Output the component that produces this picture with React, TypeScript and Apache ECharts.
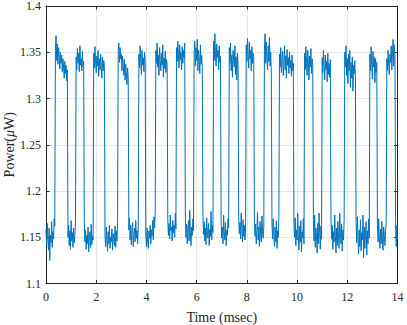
import React, { useEffect, useRef } from "react";
import * as echarts from "echarts";

// Sampling step of the trace, in msec
const SAMPLE_STEP_MS = 0.025;

// Axis ticks
const xTicks = [0, 2, 4, 6, 8, 10, 12, 14];
const yTicks = [1.1, 1.15, 1.2, 1.25, 1.3, 1.35, 1.4];

// Measured optical power (µW), one value per sample, one row per low/high level
const powerSamples: number[] = [
  // low 0.00 - 0.38
  1.158, 1.141, 1.165, 1.147, 1.136, 1.160, 1.125, 1.152, 1.144, 1.167, 1.139, 1.156, 1.148, 1.170, 1.162,
  // high 0.38 - 0.87
  1.352, 1.368, 1.341, 1.359, 1.337, 1.355, 1.346, 1.332, 1.350, 1.338, 1.347, 1.329, 1.343, 1.334, 1.322, 1.340, 1.327, 1.336, 1.319, 1.331,
  // low
  1.150, 1.163, 1.141, 1.157, 1.137, 1.168, 1.146, 1.155, 1.139, 1.160, 1.144, 1.153, 1.165,
  // high
  1.345, 1.331, 1.354, 1.338, 1.349, 1.329, 1.357, 1.336, 1.343, 1.330, 1.351, 1.334, 1.340,
  // low
  1.166, 1.145, 1.158, 1.137, 1.152, 1.143, 1.161, 1.134, 1.149, 1.156, 1.139, 1.164, 1.142, 1.151, 1.147,
  // high
  1.349, 1.333, 1.356, 1.340, 1.328, 1.346, 1.335, 1.352, 1.324, 1.343, 1.331, 1.348, 1.337, 1.322, 1.345, 1.330, 1.341, 1.334,
  // low
  1.152, 1.140, 1.161, 1.147, 1.135, 1.156, 1.143, 1.163, 1.138, 1.150, 1.145, 1.159, 1.136, 1.154, 1.148, 1.141, 1.162, 1.139, 1.157, 1.146, 1.166,
  // high
  1.351, 1.360, 1.339, 1.355, 1.343, 1.348, 1.330, 1.346, 1.336, 1.325, 1.342, 1.320, 1.337, 1.328, 1.315, 1.333, 1.322,
  // low
  1.158, 1.171, 1.147, 1.163, 1.142, 1.156, 1.166, 1.140, 1.153, 1.160, 1.145, 1.168, 1.149, 1.157, 1.143, 1.162,
  // high
  1.348, 1.333, 1.357, 1.339, 1.326, 1.352, 1.336, 1.344, 1.329, 1.350, 1.341,
  // low
  1.152, 1.140, 1.160, 1.146, 1.138, 1.157, 1.149, 1.163, 1.143, 1.158, 1.151, 1.168, 1.147, 1.172, 1.160, 1.177,
  // high
  1.352, 1.338, 1.360, 1.334, 1.347, 1.325, 1.355, 1.341, 1.330, 1.349, 1.336, 1.358, 1.323, 1.344, 1.332, 1.351, 1.328, 1.342, 1.337,
  // low
  1.170, 1.152, 1.165, 1.148, 1.174, 1.157, 1.161, 1.146, 1.168, 1.155, 1.163, 1.150, 1.176, 1.159,
  // high
  1.355, 1.340, 1.362, 1.346, 1.333, 1.358, 1.342, 1.350, 1.331, 1.356, 1.338, 1.352, 1.344, 1.360,
  // low
  1.172, 1.150, 1.164, 1.143, 1.158, 1.168, 1.146, 1.179, 1.155, 1.141, 1.161, 1.152, 1.170, 1.157,
  // high
  1.349, 1.362, 1.335, 1.355, 1.341, 1.364, 1.330, 1.352, 1.344, 1.327, 1.358, 1.337, 1.347, 1.333,
  // low
  1.175, 1.153, 1.167, 1.146, 1.160, 1.142, 1.171, 1.156, 1.149, 1.165, 1.141, 1.158, 1.151, 1.178, 1.147, 1.163, 1.155,
  // high
  1.362, 1.341, 1.370, 1.348, 1.335, 1.359, 1.344, 1.352, 1.331, 1.357, 1.339, 1.346,
  // low
  1.168, 1.149, 1.161, 1.143, 1.174, 1.155, 1.147, 1.166, 1.141, 1.158, 1.152, 1.170, 1.160,
  // high
  1.355, 1.338, 1.360, 1.330, 1.347, 1.323, 1.352, 1.341, 1.334, 1.357, 1.326, 1.345, 1.320, 1.349, 1.336,
  // low
  1.172, 1.154, 1.166, 1.148, 1.176, 1.158, 1.145, 1.169, 1.151, 1.163, 1.147, 1.160,
  // high
  1.358, 1.340, 1.365, 1.347, 1.333, 1.361, 1.343, 1.352, 1.330, 1.356, 1.338, 1.349, 1.345,
  // low
  1.170, 1.151, 1.164, 1.143, 1.158, 1.177, 1.147, 1.161, 1.140, 1.167, 1.153, 1.145, 1.173, 1.156, 1.149, 1.162,
  // high
  1.352, 1.370, 1.338, 1.361, 1.344, 1.331, 1.357, 1.340, 1.366, 1.335, 1.350, 1.328,
  // low
  1.165, 1.148, 1.170, 1.152, 1.140, 1.161, 1.145, 1.168, 1.138, 1.157, 1.150, 1.172,
  // high
  1.348, 1.334, 1.355, 1.328, 1.343, 1.351, 1.325, 1.339, 1.357, 1.331, 1.346, 1.322, 1.353, 1.336, 1.344, 1.327, 1.350, 1.333, 1.341, 1.324, 1.347, 1.330, 1.338,
  // low
  1.165, 1.150, 1.171, 1.141, 1.158, 1.147, 1.176, 1.153, 1.136, 1.162, 1.145, 1.168, 1.134, 1.156, 1.149, 1.170, 1.143,
  // high
  1.349, 1.331, 1.356, 1.338, 1.325, 1.352, 1.340, 1.320, 1.346, 1.334, 1.354, 1.327, 1.343, 1.336,
  // low
  1.168, 1.146, 1.174, 1.139, 1.160, 1.151, 1.133, 1.165, 1.143, 1.176, 1.155, 1.137, 1.162, 1.148,
  // high
  1.344, 1.328, 1.352, 1.335, 1.320, 1.347, 1.331, 1.340, 1.318, 1.349, 1.326, 1.338, 1.323, 1.342,
  // low
  1.170, 1.148, 1.163, 1.137, 1.156, 1.145, 1.174, 1.152, 1.133, 1.160, 1.141, 1.167, 1.150, 1.138, 1.176, 1.155, 1.143, 1.164, 1.135, 1.158, 1.147, 1.169,
  // high
  1.350, 1.334, 1.357, 1.325, 1.343, 1.316, 1.348, 1.330, 1.352, 1.312, 1.339, 1.322, 1.345, 1.308, 1.336, 1.327, 1.341, 1.319,
  // low
  1.166, 1.144, 1.172, 1.150, 1.132, 1.158, 1.140, 1.169, 1.135, 1.155, 1.147, 1.174, 1.128, 1.161, 1.138, 1.152, 1.167, 1.131, 1.157, 1.143, 1.170, 1.149,
  // high
  1.348, 1.330, 1.356, 1.337, 1.321, 1.351, 1.334, 1.345, 1.317, 1.343, 1.328, 1.339,
  // low
  1.164, 1.145, 1.170, 1.150, 1.138, 1.159, 1.143, 1.167, 1.148, 1.136, 1.161, 1.152, 1.141, 1.156, 1.166,
  // high
  1.343, 1.330, 1.352, 1.336, 1.326, 1.348, 1.339, 1.357, 1.331, 1.350, 1.364, 1.335, 1.358, 1.345,
  // low 13.93 - 14.00
  1.156, 1.140, 1.163, 1.148,
];

const FONT = "Liberation Serif";
const AXIS_COLOR = "#262626";
const GRID_COLOR = "#e6e6e6";
const LINE_COLOR = "#0072BD";

export default function App() {
  const ref = useRef<HTMLDivElement>(null);

  useEffect(() => {
    if (!ref.current) return;
    const chart = echarts.init(ref.current, undefined, { renderer: "svg" });

    const data = powerSamples.map((v, i) => [i * SAMPLE_STEP_MS, v]);
    const xMin = xTicks[0];
    const xMax = xTicks[xTicks.length - 1];
    const xInt = xTicks[1] - xTicks[0];
    const yMin = yTicks[0];
    const yMax = yTicks[yTicks.length - 1];
    const yInt = 0.05;

    const fmtY = (v: number) => String(parseFloat(v.toFixed(2)));

    const baseX = {
      type: "value" as const,
      min: xMin,
      max: xMax,
      interval: xInt,
    };
    const baseY = {
      type: "value" as const,
      min: yMin,
      max: yMax,
      interval: yInt,
    };

    chart.setOption({
      animation: false,
      backgroundColor: "#ffffff",
      grid: {
        left: 46,
        right: 9.5,
        top: 6,
        bottom: 41.5,
        containLabel: false,
        outerBoundsMode: "none",
      },
      xAxis: [
        {
          ...baseX,
          position: "bottom",
          name: "Time (msec)",
          nameLocation: "middle",
          nameGap: 27,
          nameMoveOverlap: false,
          nameTextStyle: { fontFamily: FONT, fontSize: 14, color: AXIS_COLOR },
          axisLine: { show: true, onZero: false, lineStyle: { color: AXIS_COLOR, width: 1 } },
          axisTick: { show: true, inside: true, length: 3.5, lineStyle: { color: AXIS_COLOR } },
          axisLabel: { fontFamily: FONT, fontSize: 12, color: AXIS_COLOR, margin: 7 },
          splitLine: { show: true, lineStyle: { color: GRID_COLOR, width: 1 } },
        },
        {
          ...baseX,
          position: "top",
          axisLine: { show: true, onZero: false, lineStyle: { color: AXIS_COLOR, width: 1 } },
          axisTick: { show: true, inside: true, length: 3.5, lineStyle: { color: AXIS_COLOR } },
          axisLabel: { show: false },
          splitLine: { show: false },
        },
      ],
      yAxis: [
        {
          ...baseY,
          position: "left",
          name: "{n|Power(}{m|μ}{n|W)}",
          nameLocation: "middle",
          nameGap: 30,
          nameRotate: 90,
          nameMoveOverlap: false,
          nameTextStyle: {
            rich: {
              n: { fontFamily: FONT, fontSize: 14, color: AXIS_COLOR },
              m: { fontFamily: FONT, fontSize: 14, color: AXIS_COLOR, fontStyle: "italic" },
            },
          },
          axisLine: { show: true, onZero: false, lineStyle: { color: AXIS_COLOR, width: 1 } },
          axisTick: { show: true, inside: true, length: 3.5, lineStyle: { color: AXIS_COLOR } },
          axisLabel: { fontFamily: FONT, fontSize: 12, color: AXIS_COLOR, margin: 5, formatter: fmtY },
          splitLine: { show: true, lineStyle: { color: GRID_COLOR, width: 1 } },
        },
        {
          ...baseY,
          position: "right",
          axisLine: { show: true, onZero: false, lineStyle: { color: AXIS_COLOR, width: 1 } },
          axisTick: { show: true, inside: true, length: 3.5, lineStyle: { color: AXIS_COLOR } },
          axisLabel: { show: false },
          splitLine: { show: false },
        },
      ],
      series: [
        {
          type: "line",
          xAxisIndex: 0,
          yAxisIndex: 0,
          data,
          showSymbol: false,
          symbol: "none",
          lineStyle: { color: LINE_COLOR, width: 1 },
          clip: true,
        },
      ],
    });

    return () => {
      chart.dispose();
    };
  }, []);

  return (
    <div
      ref={ref}
      style={{ position: "fixed", left: 0, top: 0, width: 407, height: 325, background: "#fff" }}
    />
  );
}
